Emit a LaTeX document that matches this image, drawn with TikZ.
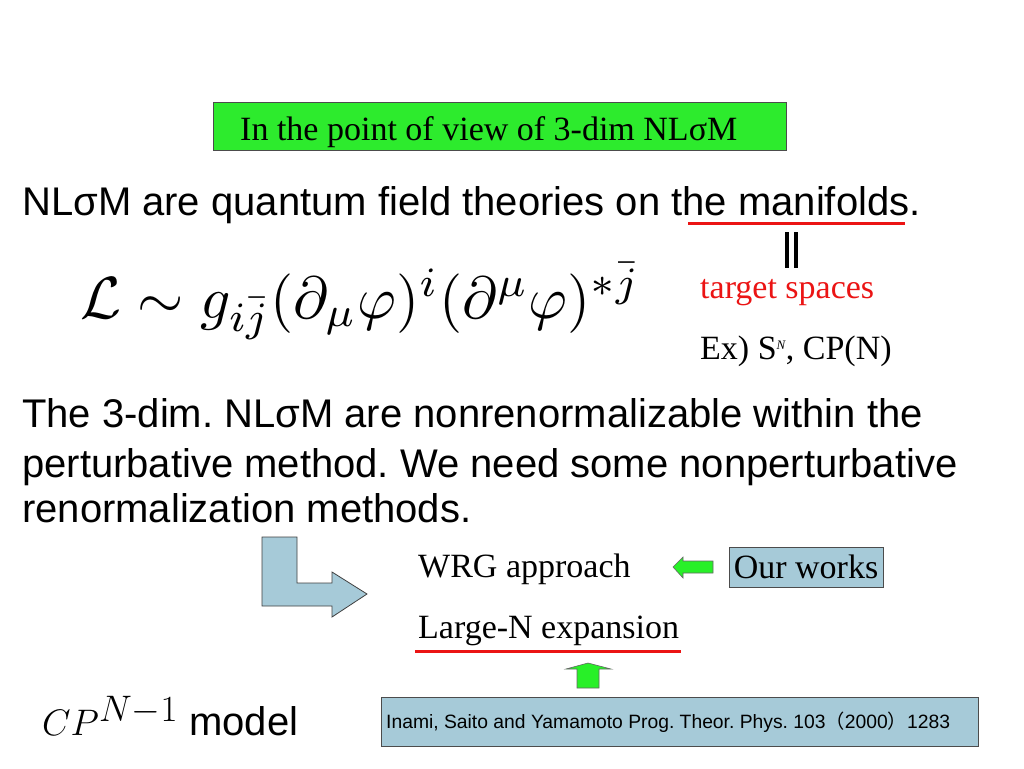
\documentclass[tikz,border=0pt]{standalone}
\usepackage{graphicx}
\usepackage{fontspec}
\setmainfont{Liberation Serif}
\setsansfont{Liberation Sans}
\newfontfamily\cjk{Noto Sans CJK JP}
\frenchspacing
\definecolor{titlegreen}{RGB}{45,235,45}
\definecolor{arrowgreen}{RGB}{40,240,40}
\definecolor{paleblue}{RGB}{166,202,216}
\definecolor{linered}{RGB}{235,20,20}

\begin{document}
\begin{tikzpicture}[x=1pt,y=-1pt,
    sans/.style={font=\fontsize{40}{46}\selectfont\sffamily, inner sep=0pt, anchor=base west},
    serif/.style={font=\fontsize{34}{38}\selectfont, inner sep=0pt, anchor=base west},
    bluebox/.style={draw=black!70, fill=paleblue, line width=0.8pt},
    greenarrow/.style={draw=black!60, fill=arrowgreen, line width=0.6pt},
    redline/.style={draw=linered, line width=3pt}]
  \useasboundingbox (0,0) rectangle (1024,768);
  \fill[white] (0,0) rectangle (1024,768);

  % title box
  \draw[fill=titlegreen, draw=black!70, line width=0.8pt] (213,102) rectangle (786,150);
  \node[serif] (title) at (240,140) {In the point of view of 3-dim NLσM};

  \node[sans] (manifold) at (22,215) {NLσM are quantum field theories on the manifolds.};
  \draw[redline] (688,223) -- (905,223);
  \draw[line width=3.5pt] (787,232) -- (787,268) (796,232) -- (796,268);

  \node[inner sep=0pt, anchor=base west] (lag) at (80,318)
    {\resizebox{560pt}{!}{$\mathcal{L}\sim g_{i\bar{j}}(\partial_\mu\varphi)^i(\partial^\mu\varphi)^{*\bar{j}}$}};
  \node[serif, text=linered] (target) at (700,298) {target spaces};
  \node[serif] (ex) at (700,359) {Ex) S\textsuperscript{\fontsize{13}{13}\selectfont\itshape N}, CP(N)};

  \node[sans] (line1) at (22,427) {The 3-dim. NLσM are nonrenormalizable within the};
  \node[sans] (line2) at (22,477) {perturbative method. We need some nonperturbative};
  \node[sans] (line3) at (22,522) {renormalization methods.};

  % bent arrow
  \draw[fill=paleblue, draw=black!75, line width=0.8pt]
    (262,537) -- (297,537) -- (297,583) -- (332,583) -- (332,572) -- (367,594)
    -- (332,617) -- (332,606) -- (262,606) -- cycle;

  \node[serif] (wrg) at (418,577) {WRG approach};
  \node[serif, bluebox, anchor=center, minimum width=154pt, minimum height=40pt] (ours) at (806,567) {Our works};
  \draw[greenarrow] (713,561) -- (683,561) -- (683,557) -- (673,567) -- (683,578)
    -- (683,573) -- (713,573) -- cycle;

  \node[serif] (largen) at (418,638) {Large-N expansion};
  \draw[redline] (415,651) -- (681,651);
  \draw[greenarrow] (577,688) -- (577,669) -- (566,669) -- (588,663) -- (611,669)
    -- (599,669) -- (599,688) -- cycle;

  \draw[bluebox] (381,697) rectangle (978,746);
  \node[inner sep=0pt, anchor=base west, font=\fontsize{19.3}{22}\selectfont\sffamily] (ref) at (386,728)
    {Inami, Saito and Yamamoto Prog. Theor. Phys. 103{\cjk（}2000{\cjk）}1283};

  \node[inner sep=0pt, anchor=base west, font=\fontsize{40}{46}\selectfont\sffamily] (cp) at (42,735)
    {\resizebox{136pt}{!}{$CP^{N-1}$} model};
\end{tikzpicture}
\end{document}
